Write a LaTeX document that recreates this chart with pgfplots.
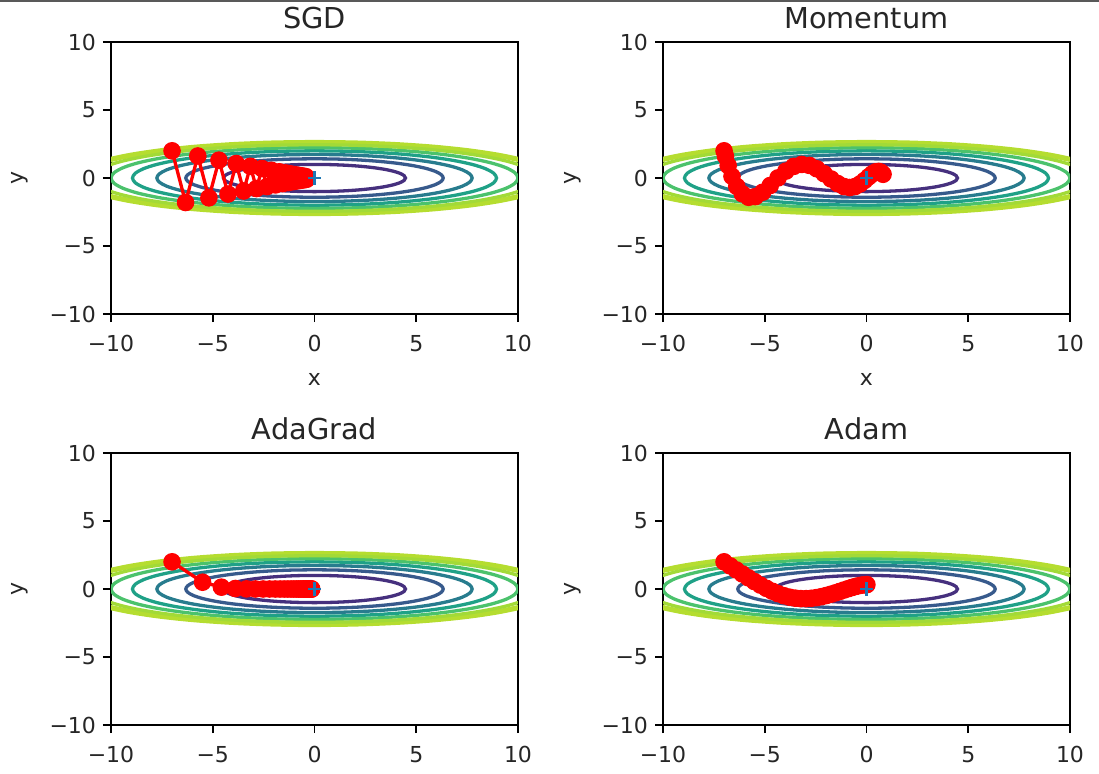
\documentclass[border=0pt]{standalone}
\usepackage{pgfplots}
\usepackage{pgfplotstable}
\pgfplotsset{compat=1.18}
\usepackage{fontspec}
\setmainfont{DejaVu Sans}

\definecolor{lev1}{HTML}{46307E}
\definecolor{lev2}{HTML}{375A8C}
\definecolor{lev3}{HTML}{287C8E}
\definecolor{lev4}{HTML}{1FA187}
\definecolor{lev5}{HTML}{4BC26C}
\definecolor{lev6}{HTML}{A2DA37}
\definecolor{lev7}{HTML}{B5DD30}
\definecolor{mplblue}{HTML}{1F77B4}

\pgfplotstableread{
c s
0 1
-0.1736 0.9848
-0.3420 0.9397
-0.5 0.8660
-0.6428 0.7660
-0.7660 0.6428
-0.8660 0.5
-0.9397 0.3420
-0.9848 0.1736
-1 0
-0.9848 -0.1736
-0.9397 -0.3420
-0.8660 -0.5
-0.7660 -0.6428
-0.6428 -0.7660
-0.5 -0.8660
-0.3420 -0.9397
-0.1736 -0.9848
0 -1
0.1736 -0.9848
0.3420 -0.9397
0.5 -0.8660
0.6428 -0.7660
0.7660 -0.6428
0.8660 -0.5
0.9397 -0.3420
0.9848 -0.1736
1 0
0.9848 0.1736
0.9397 0.3420
0.8660 0.5
0.7660 0.6428
0.6428 0.7660
0.5 0.8660
0.3420 0.9397
0.1736 0.9848
0 1
}\unitcirc

\pgfplotstableread{
x y
-7 2
-6.335 -1.8
-5.7332 1.62
-5.1885 -1.458
-4.6956 1.3122
-4.2495 -1.181
-3.8458 1.0629
-3.4805 -0.9566
-3.1498 0.8609
-2.8506 -0.7748
-2.5798 0.6974
-2.3347 -0.6276
-2.1129 0.5649
-1.9122 -0.5084
-1.7305 0.4575
-1.5661 -0.4118
-1.4173 0.3706
-1.2827 -0.3335
-1.1608 0.3002
-1.0506 -0.2702
-0.9508 0.2432
-0.8604 -0.2188
-0.7787 0.1970
-0.7047 -0.1773
-0.6378 0.1595
-0.5772 -0.1436
-0.5223 0.1292
-0.4727 -0.1163
-0.4278 0.1047
-0.3872 -0.0942
}\sgd

\pgfplotstableread{
x y
-7 2
-6.93 1.6
-6.7977 0.92
-6.6107 0.124
-6.3762 -0.6172
-6.1014 -1.1608
-5.7931 -1.4179
-5.4577 -1.3658
-5.1013 -1.0456
-4.7295 -0.5484
-4.3476 0.0088
-3.9603 0.5085
-3.5723 0.8566
-3.1873 0.9985
-2.8089 0.9265
-2.4403 0.6764
-2.0841 0.3161
-1.7427 -0.0714
-1.4180 -0.4059
-1.1116 -0.6258
-0.8248 -0.6985
-0.5583 -0.6242
-0.3130 -0.4326
-0.0890 -0.1735
0.1135 0.0943
0.2945 0.3165
0.4546 0.4532
0.5940 0.4855
0.7136 0.4176
0.8141 0.2729
}\momentum

\pgfplotstableread{
x y
-7 2
-5.5 0.5
-4.5733 0.1362
-3.8878 0.0373
-3.3447 0.0102
-2.8986 0.0028
-2.5242 0.0008
-2.2056 0.0002
-1.9319 0.0001
-1.6951 0
-1.4894 0
-1.3099 0
-1.1529 0
-1.0153 0
-0.8945 0
-0.7884 0
-0.6950 0
-0.6128 0
-0.5405 0
-0.4767 0
-0.4205 0
-0.3709 0
-0.3272 0
-0.2887 0
-0.2547 0
-0.2247 0
-0.1983 0
-0.1749 0
-0.1543 0
-0.1362 0
}\adagrad

\pgfplotstableread{
x y
-7 2
-6.7 1.7
-6.4004 1.4022
-6.1015 1.1089
-5.8037 0.8228
-5.5073 0.5477
-5.2126 0.2880
-4.9200 0.0489
-4.6300 -0.1641
-4.3430 -0.3456
-4.0594 -0.4918
-3.7797 -0.6004
-3.5044 -0.6713
-3.2339 -0.7063
-2.9689 -0.7085
-2.7098 -0.6820
-2.4571 -0.6314
-2.2114 -0.5612
-1.9732 -0.4760
-1.7431 -0.3804
-1.5214 -0.2789
-1.3089 -0.1756
-1.1058 -0.0745
-0.9126 0.0205
-0.7297 0.1062
-0.5574 0.1798
-0.3961 0.2392
-0.2460 0.2829
-0.1072 0.3105
0.0201 0.3219
}\adam

\newcommand{\lev}[3]{\addplot[no marks, smooth, line width=1.65pt, color=#3] table[x expr=\thisrow{c}*#1, y expr=\thisrow{s}*#2] {\unitcirc};}
\newcommand{\contours}{%
 \lev{4.4721}{1.0}{lev1}
 \lev{6.3246}{1.4142}{lev2}
 \lev{7.7460}{1.7321}{lev3}
 \lev{8.9443}{2.0}{lev4}
 \lev{10.0}{2.2361}{lev5}
 \addplot[no marks, smooth, line width=2.6pt, color=lev7] table[x expr=\thisrow{c}*11.75, y expr=\thisrow{s}*2.61] {\unitcirc};
 \lev{10.9545}{2.4495}{lev6}
}
\newcommand{\optpath}[1]{%
 \addplot[red, line width=1.65pt, mark=*, mark size=4.1pt, mark options={solid, fill=red, draw=red, line width=0.6pt}] table {#1};
 \addplot[only marks, mark=+, mark size=3.3pt, color=mplblue, mark options={line width=1.1pt}] coordinates {(0,0)};
}

\pgfplotsset{
 myax/.style={
  scale only axis, width=203.5pt, height=136pt,
  xmin=-10, xmax=10, ymin=-10, ymax=10,
  xtick={-10,-5,0,5,10}, ytick={-10,-5,0,5,10},
  xticklabels={−10,−5,0,5,10}, yticklabels={−10,−5,0,5,10},
  tick align=outside, tick pos=left, major tick length=4pt,
  every tick/.style={black, line width=0.88pt},
  axis line style={line width=0.88pt},
  ticklabel style={font=\fontsize{11}{13}\selectfont, color=black!85},
  xticklabel style={anchor=base, yshift=-14.5pt},
  title style={font=\fontsize{14.4}{17}\selectfont, at={(axis description cs:0.5,1)}, anchor=base, yshift=1pt, color=black!85},
  label style={font=\fontsize{11}{13}\selectfont, color=black!85},
  xlabel style={at={(axis description cs:0.5,0)}, anchor=base, yshift=-35.5pt},
  ylabel style={at={([xshift=-43.5pt]axis description cs:0,0.5)}, anchor=base, rotate=0},
  clip=true,
 }
}

\begin{document}
\begin{tikzpicture}
\useasboundingbox (0,0) rectangle (549.5pt,-386.5pt);
\fill[black!65] (0,0) rectangle (549.5pt,-1.2pt);

\begin{axis}[myax, at={(55.5pt,-21pt)}, anchor=north west, title={SGD}, xlabel={x}, ylabel={y}]
\contours
\optpath{\sgd}
\end{axis}

\begin{axis}[myax, at={(331.5pt,-21pt)}, anchor=north west, title={Momentum}, xlabel={x}, ylabel={y}]
\contours
\optpath{\momentum}
\end{axis}

\begin{axis}[myax, at={(55.5pt,-226.5pt)}, anchor=north west, title={AdaGrad}, ylabel={y}]
\contours
\optpath{\adagrad}
\end{axis}

\begin{axis}[myax, at={(331.5pt,-226.5pt)}, anchor=north west, title={Adam}, ylabel={y}]
\contours
\optpath{\adam}
\end{axis}
\end{tikzpicture}
\end{document}
